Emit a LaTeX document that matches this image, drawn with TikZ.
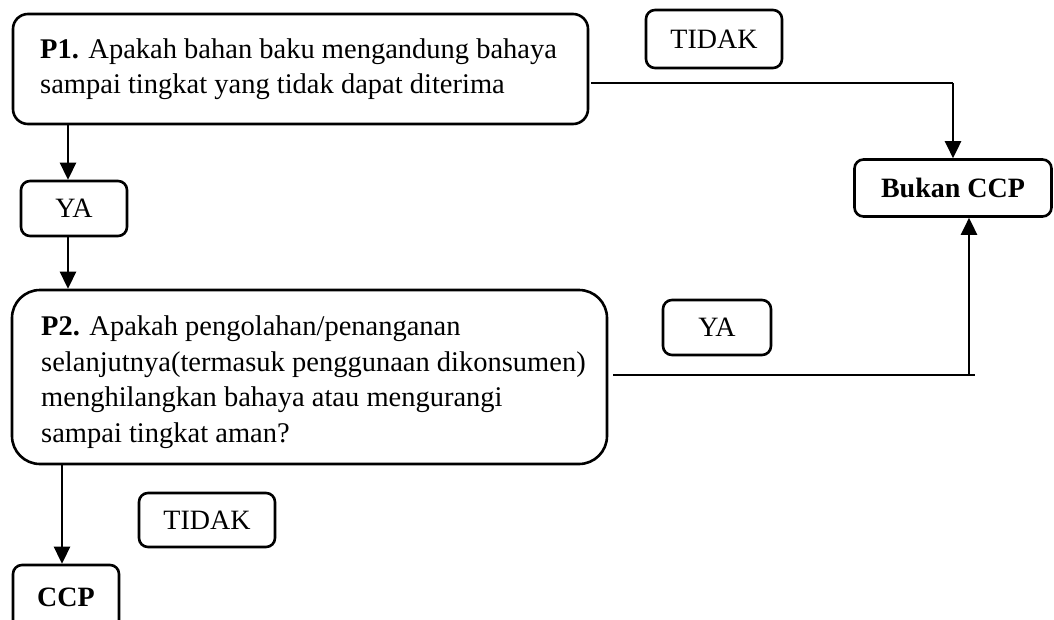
\documentclass[tikz,border=0pt]{standalone}
\usepackage{fontspec}
\setmainfont{Liberation Serif}
\usetikzlibrary{arrows.meta}
\tikzset{
  boxline/.style={draw=black, line width=2.6pt},
  bigbox/.style={boxline, rectangle, rounded corners=15pt, inner sep=0pt},
  smallbox/.style={boxline, rectangle, rounded corners=9pt, inner sep=0pt, font=\fontsize{28}{34}\selectfont},
  txt/.style={anchor=west, align=left, inner sep=0pt, font=\fontsize{28.5}{35.5}\selectfont},
  arr/.style={line width=2.6pt, -{Triangle[length=17pt,width=16pt]}},
  thinline/.style={line width=1.5pt}
}
\begin{document}
\begin{tikzpicture}[x=1pt,y=-1pt]
\clip (0,0) rectangle (1054,619);
\fill[white] (0,0) rectangle (1054,619);
% boxes
\node[bigbox, minimum width=575pt, minimum height=110pt] (p1) at (300.5,69) {};
\node[txt] (p1t) at (40,69) {\textbf{P1.} Apakah bahan baku mengandung bahaya\\sampai tingkat yang tidak dapat diterima};
\node[smallbox, minimum width=136pt, minimum height=58pt] (tidak1) at (714,39) {TIDAK};
\node[smallbox, minimum width=197pt, minimum height=57pt] (bukan) at (953,188) {\textbf{Bukan CCP}};
\node[smallbox, minimum width=106pt, minimum height=55pt] (ya1) at (74,208.5) {YA};
\node[bigbox, rounded corners=28pt, minimum width=595pt, minimum height=174pt] (p2) at (309.5,377) {};
\node[txt] (p2t) at (41,382) {\textbf{P2.} Apakah pengolahan/penanganan\\selanjutnya(termasuk penggunaan dikonsumen)\\menghilangkan bahaya atau mengurangi\\sampai tingkat aman?};
\node[smallbox, minimum width=108pt, minimum height=55pt] (ya2) at (717,327.5) {YA};
\node[smallbox, minimum width=136pt, minimum height=54pt] (tidak2) at (207,520) {TIDAK};
\node[smallbox, minimum width=106pt, minimum height=65pt] (ccp) at (66,597.5) {\textbf{CCP}};
% connectors
\coordinate (a1) at (68,124);
\draw[arr] (a1 |- p1.south) -- (a1 |- ya1.north);
\draw[arr] (a1 |- ya1.south) -- (a1 |- p2.north);
\coordinate (t1) at (953,83);
\draw[thinline] ([xshift=2pt]p1.east |- t1) -- (t1);
\draw[arr] (t1) -- (bukan.north);
\coordinate (t2) at (975,375);
\coordinate (u2) at (969,375);
\draw[thinline] ([xshift=5pt]p2.east |- t2) -- (t2);
\draw[arr] (u2) -- (u2 |- bukan.south);
\coordinate (a3) at (62,464);
\draw[arr] (a3 |- p2.south) -- (a3 |- ccp.north);
\end{tikzpicture}
\end{document}
